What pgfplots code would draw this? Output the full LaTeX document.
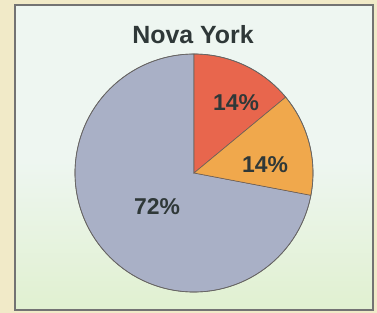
\documentclass[border=0pt]{standalone}
\usepackage{pgfplots}
\pgfplotsset{compat=1.18}
\usepackage{pgfplotstable}
\usepackage{fontspec}
\setmainfont{Liberation Sans}
\definecolor{bgout}{HTML}{F1EAC8}
\definecolor{bgin}{HTML}{EEF6F1}
\definecolor{bggreen}{HTML}{DDEFC8}
\definecolor{sred}{HTML}{E8664D}
\definecolor{sorange}{HTML}{F0A84C}
\definecolor{sgray}{HTML}{A9B0C6}
\definecolor{txt}{HTML}{2F3838}
\definecolor{edge}{HTML}{6A5E58}
% slice values (percent), clockwise from 12 o'clock
\pgfplotstableread{
label value lx ly
14\% 14 236 210
14\% 14 265 148
72\% 72 157 106
}\slices
\pgfplotstablegetelem{0}{value}\of\slices \edef\va{\pgfplotsretval}
\pgfplotstablegetelem{1}{value}\of\slices \edef\vb{\pgfplotsretval}
\pgfplotstablegetelem{2}{value}\of\slices \edef\vc{\pgfplotsretval}
\pgfmathsetmacro{\sa}{90}
\pgfmathsetmacro{\sb}{90-3.6*\va}
\pgfmathsetmacro{\sc}{\sb-3.6*\vb}
\pgfmathsetmacro{\da}{-3.6*\va}
\pgfmathsetmacro{\db}{-3.6*\vb}
\pgfmathsetmacro{\dc}{-3.6*\vc}
\def\cx{194}
\def\cy{140}
\def\R{119bp}
\begin{document}
\begin{tikzpicture}
\begin{axis}[
  x=1bp, y=1bp, xmin=0, xmax=377, ymin=0, ymax=313,
  hide axis, clip=false, scale only axis,
]
% backgrounds
\fill[bgout] (axis cs:0,0) rectangle (axis cs:377,313);
\shade[bottom color=bggreen!80!bgin, top color=bgin, middle color=bgin] (axis cs:15,3) rectangle (axis cs:373,308);
\draw[black!55, line width=1.1bp] (axis cs:15,3) rectangle (axis cs:373,308);
% pie slices
\filldraw[fill=sgray, draw=edge, line width=0.6bp] (axis cs:\cx,\cy) -- ++(\sc:\R) arc[start angle=\sc, delta angle=\dc, radius=\R] -- cycle;
\filldraw[fill=sred, draw=edge, line width=0.6bp] (axis cs:\cx,\cy) -- ++(\sa:\R) arc[start angle=\sa, delta angle=\da, radius=\R] -- cycle;
\filldraw[fill=sorange, draw=edge, line width=0.6bp] (axis cs:\cx,\cy) -- ++(\sb:\R) arc[start angle=\sb, delta angle=\db, radius=\R] -- cycle;
\draw[black!60, line width=0.7bp] (axis cs:\cx,\cy) circle[radius=\R];
% labels
\addplot[only marks, mark=none, nodes near coords,
  point meta=explicit symbolic,
  nodes near coords style={anchor=center, font=\fontsize{23}{23}\selectfont\bfseries, text=txt}]
  table[x=lx, y=ly, meta=label] {\slices};
\node[font=\fontsize{25}{25}\selectfont\bfseries, text=txt] at (axis cs:193,278) {Nova York};
\end{axis}
\end{tikzpicture}
\end{document}
